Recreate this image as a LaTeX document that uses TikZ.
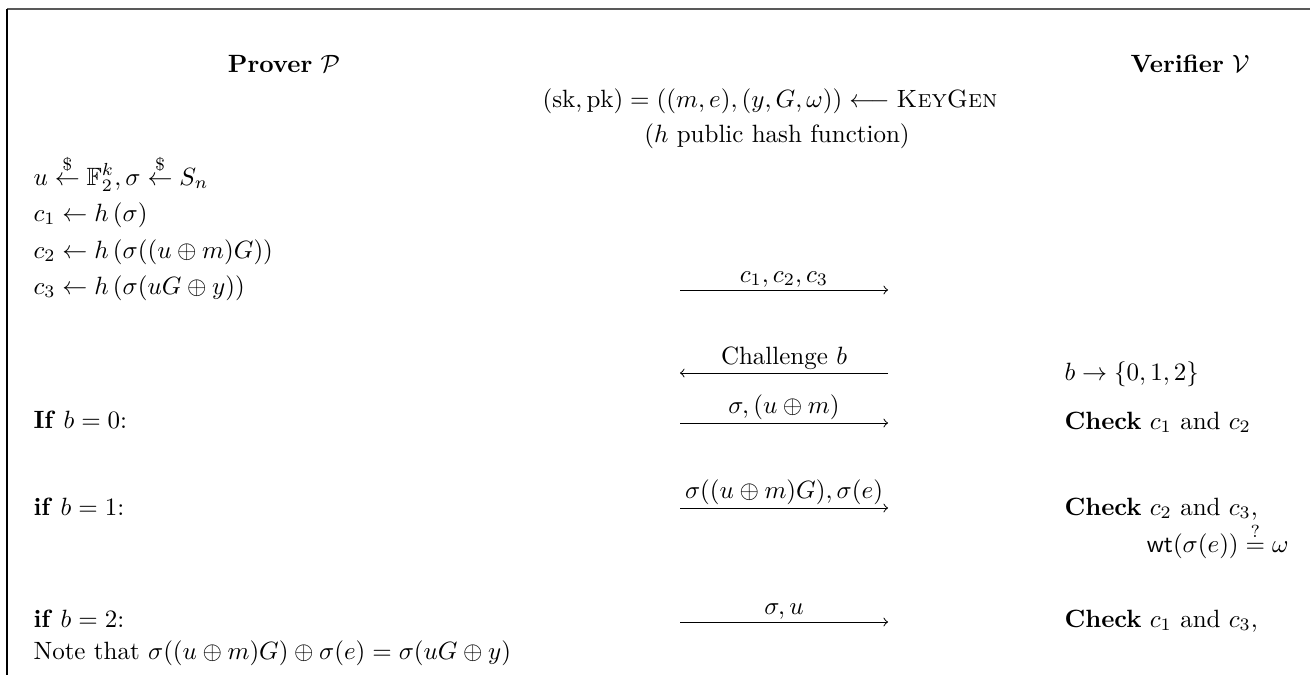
\documentclass[tikz,border=0pt]{standalone}
\usepackage{amsmath,amssymb}
\begin{document}
\begin{tikzpicture}[x=0.4pt,y=-0.4pt,
    msg/.style={->,line width=0.4pt},
    lbl/.style={above,inner sep=1pt},
    txt/.style={anchor=base west,inner sep=0pt}]
  \useasboundingbox (0,0) rectangle (1310,675);
  % frame
  \coordinate (fr) at (1310,9); \coordinate (fc) at (7,9); \coordinate (fb) at (7,675);
  \draw[line width=0.8pt,black!65] (fr) -- (fc);
  \draw[line width=0.5pt] (fc) -- (fb);
  % parties and setup
  \node[anchor=base,inner sep=0pt] (prover) at (284,72) {\textbf{Prover} $\mathcal{P}$};
  \node[anchor=base,inner sep=0pt] (verifier) at (1190,72) {\textbf{Verifier} $\mathcal{V}$};
  \node[anchor=base,inner sep=0pt] (keygen) at (770,107) {$(\mathrm{sk},\mathrm{pk}) = ((m,e),(y,G,\omega)) \longleftarrow \textsc{KeyGen}$};
  \node[anchor=base,inner sep=0pt] (hash) at (777,142) {($h$ public hash function)};
  % prover commitments
  \node[txt] (rand) at (33,185) {$u \stackrel{\$}{\leftarrow} \mathbb{F}_2^k, \sigma \stackrel{\$}{\leftarrow} S_n$};
  \node[txt] (com1) at (33,221) {$c_1 \leftarrow h\,(\sigma)$};
  \node[txt] (com2) at (33,258) {$c_2 \leftarrow h\,(\sigma((u \oplus m)G))$};
  \node[txt] (com3) at (33,294) {$c_3 \leftarrow h\,(\sigma(uG \oplus y))$};
  % cases
  \node[txt] (case0) at (33,428) {\textbf{If} $b=0$:};
  \node[txt] (case1) at (33,515) {\textbf{if} $b=1$:};
  \node[txt] (case2) at (33,627) {\textbf{if} $b=2$:};
  \node[txt] (note) at (33,659) {Note that $\sigma((u \oplus m)G) \oplus \sigma(e) = \sigma(uG \oplus y)$};
  % verifier side
  \node[txt] (chal) at (1064,380) {$b \rightarrow \{0,1,2\}$};
  \node[txt] (chk0) at (1064,429) {\textbf{Check} $c_1$ and $c_2$};
  \node[txt] (chk1) at (1064,515) {\textbf{Check} $c_2$ and $c_3$,};
  \node[anchor=base east,inner sep=0pt] (wt) at (1289,552) {$\mathsf{wt}(\sigma(e)) \stackrel{?}{=} \omega$};
  \node[txt] (chk2) at (1064,627) {\textbf{Check} $c_1$ and $c_3$,};
  % messages
  \coordinate (m1l) at (680,290); \coordinate (m1r) at (888,290);
  \coordinate (m2l) at (680,373); \coordinate (m2r) at (888,373);
  \coordinate (m3l) at (680,423); \coordinate (m3r) at (888,423);
  \coordinate (m4l) at (680,508); \coordinate (m4r) at (888,508);
  \coordinate (m5l) at (680,622); \coordinate (m5r) at (888,622);
  \draw[msg] (m1l) -- node[lbl] {$c_1, c_2, c_3$} (m1r);
  \draw[msg] (m2r) -- node[lbl] {Challenge $b$} (m2l);
  \draw[msg] (m3l) -- node[lbl] {$\sigma, (u \oplus m)$} (m3r);
  \draw[msg] (m4l) -- node[lbl] {$\sigma((u \oplus m)G), \sigma(e)$} (m4r);
  \draw[msg] (m5l) -- node[lbl] {$\sigma, u$} (m5r);
\end{tikzpicture}
\end{document}
